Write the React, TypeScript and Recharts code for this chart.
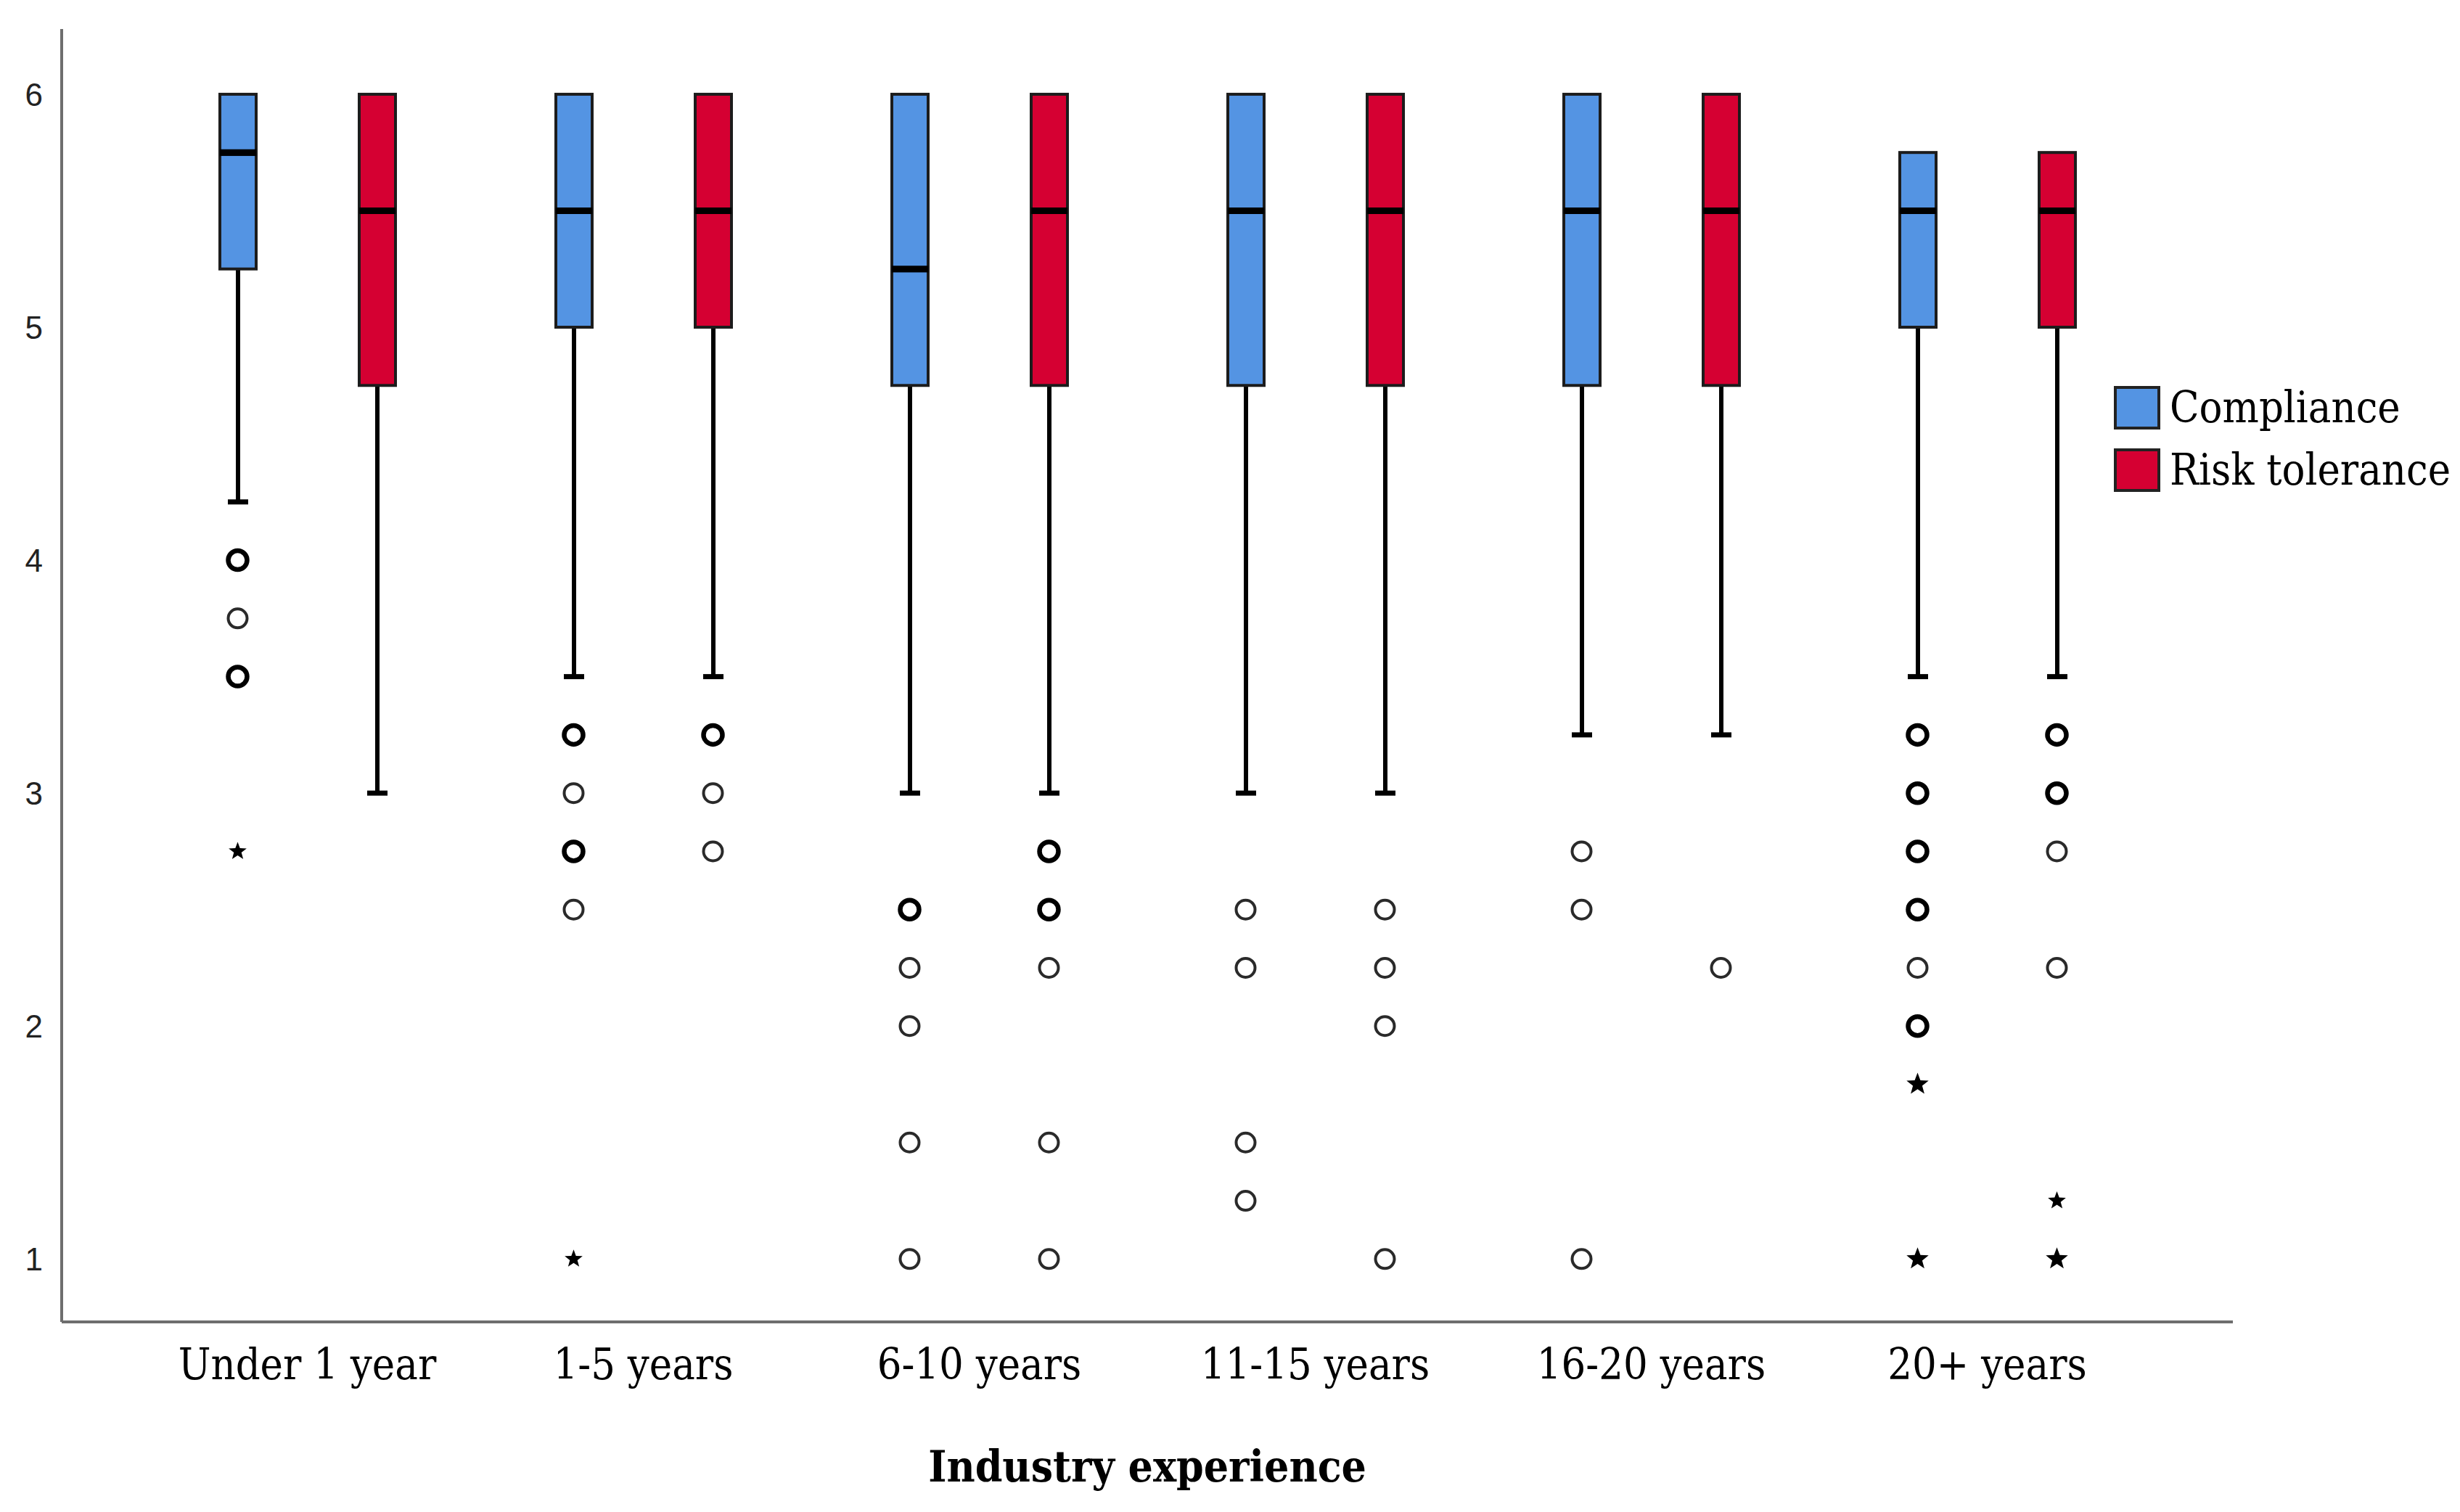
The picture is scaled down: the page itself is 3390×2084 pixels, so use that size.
import { Bar, ComposedChart, Label, Scatter, XAxis, YAxis } from "recharts";

const categories = [
  "Under 1 year",
  "1-5 years",
  "6-10 years",
  "11-15 years",
  "16-20 years",
  "20+ years",
];
const seriesNames = ["Compliance", "Risk tolerance"];
const seriesColors = ["#5494e3", "#d50032"];

// box plot stats per category: lower whisker end, Q1, median, Q3 (= max)
const complianceLow = [4.25, 3.5, 3, 3, 3.25, 3.5];
const complianceQ1 = [5.25, 5, 4.75, 4.75, 4.75, 5];
const complianceMedian = [5.75, 5.5, 5.25, 5.5, 5.5, 5.5];
const complianceQ3 = [6, 6, 6, 6, 6, 5.75];

const riskLow = [3, 3.5, 3, 3, 3.25, 3.5];
const riskQ1 = [4.75, 5, 4.75, 4.75, 4.75, 5];
const riskMedian = [5.5, 5.5, 5.5, 5.5, 5.5, 5.5];
const riskQ3 = [6, 6, 6, 6, 6, 5.75];

// outliers (circles) and extremes (stars); n = cases stacked on the same value
const complianceOutliers = [
  { cat: "Under 1 year", v: 4, n: 2 },
  { cat: "Under 1 year", v: 3.75, n: 1 },
  { cat: "Under 1 year", v: 3.5, n: 3 },
  { cat: "1-5 years", v: 3.25, n: 2 },
  { cat: "1-5 years", v: 3, n: 1 },
  { cat: "1-5 years", v: 2.75, n: 2 },
  { cat: "1-5 years", v: 2.5, n: 1 },
  { cat: "6-10 years", v: 2.5, n: 2 },
  { cat: "6-10 years", v: 2.25, n: 1 },
  { cat: "6-10 years", v: 2, n: 1 },
  { cat: "6-10 years", v: 1.5, n: 1 },
  { cat: "6-10 years", v: 1, n: 1 },
  { cat: "11-15 years", v: 2.5, n: 1 },
  { cat: "11-15 years", v: 2.25, n: 1 },
  { cat: "11-15 years", v: 1.5, n: 1 },
  { cat: "11-15 years", v: 1.25, n: 1 },
  { cat: "16-20 years", v: 2.75, n: 1 },
  { cat: "16-20 years", v: 2.5, n: 1 },
  { cat: "16-20 years", v: 1, n: 1 },
  { cat: "20+ years", v: 3.25, n: 3 },
  { cat: "20+ years", v: 3, n: 3 },
  { cat: "20+ years", v: 2.75, n: 3 },
  { cat: "20+ years", v: 2.5, n: 2 },
  { cat: "20+ years", v: 2.25, n: 1 },
  { cat: "20+ years", v: 2, n: 3 },
];
const complianceExtremes = [
  { cat: "Under 1 year", v: 2.75, n: 1 },
  { cat: "1-5 years", v: 1, n: 1 },
  { cat: "20+ years", v: 1.75, n: 2 },
  { cat: "20+ years", v: 1, n: 3 },
];
const riskOutliers = [
  { cat: "1-5 years", v: 3.25, n: 3 },
  { cat: "1-5 years", v: 3, n: 1 },
  { cat: "1-5 years", v: 2.75, n: 1 },
  { cat: "6-10 years", v: 2.75, n: 3 },
  { cat: "6-10 years", v: 2.5, n: 3 },
  { cat: "6-10 years", v: 2.25, n: 1 },
  { cat: "6-10 years", v: 1.5, n: 1 },
  { cat: "6-10 years", v: 1, n: 1 },
  { cat: "11-15 years", v: 2.5, n: 1 },
  { cat: "11-15 years", v: 2.25, n: 1 },
  { cat: "11-15 years", v: 2, n: 1 },
  { cat: "11-15 years", v: 1, n: 1 },
  { cat: "16-20 years", v: 2.25, n: 1 },
  { cat: "20+ years", v: 3.25, n: 3 },
  { cat: "20+ years", v: 3, n: 3 },
  { cat: "20+ years", v: 2.75, n: 1 },
  { cat: "20+ years", v: 2.25, n: 1 },
];
const riskExtremes = [
  { cat: "20+ years", v: 1.25, n: 1 },
  { cat: "20+ years", v: 1, n: 3 },
];

const yTicks = [1, 2, 3, 4, 5, 6];

const rows = categories.map((cat, i) => ({
  cat,
  cBase: complianceLow[i],
  cWhisker: complianceQ1[i] - complianceLow[i],
  cLower: complianceMedian[i] - complianceQ1[i],
  cUpper: complianceQ3[i] - complianceMedian[i],
  rBase: riskLow[i],
  rWhisker: riskQ1[i] - riskLow[i],
  rLower: riskMedian[i] - riskQ1[i],
  rUpper: riskQ3[i] - riskMedian[i],
}));

const SERIF = "'DejaVu Serif Condensed', 'DejaVu Serif', serif";
const SANS = "'Liberation Sans', Arial, sans-serif";
const AXIS_GREY = "#6e6e6e";
const BOX_STROKE = "#1c1c1c";
const BAR_SIZE = 50;
const BAR_GAP = 142;
const BOX_SHIFT = (BAR_SIZE + BAR_GAP) / 2;

function WhiskerShape(props: any) {
  const { x, y, width, height } = props;
  const cx = x + width / 2;
  return (
    <g>
      <line x1={cx} x2={cx} y1={y} y2={y + height} stroke="#000" strokeWidth={6} />
      <line
        x1={cx - 14}
        x2={cx + 14}
        y1={y + height}
        y2={y + height}
        stroke="#000"
        strokeWidth={7}
      />
    </g>
  );
}

function boxShape(fill: string, medianAtBottom: boolean) {
  return (props: any) => {
    const { x, y, width, height } = props;
    const my = medianAtBottom ? y + height : y;
    return (
      <g>
        <rect
          x={x}
          y={y}
          width={width}
          height={height}
          fill={fill}
          stroke={BOX_STROKE}
          strokeWidth={4}
        />
        <line x1={x} x2={x + width} y1={my} y2={my} stroke="#000" strokeWidth={9} />
      </g>
    );
  };
}

function circleShape(dx: number) {
  return (p: any) => {
    const bold = p.payload.n > 1;
    return (
      <circle
        cx={p.cx + dx}
        cy={p.cy}
        r={13}
        fill="none"
        stroke={bold ? "#000" : "#2a2a2a"}
        strokeWidth={bold ? 6.5 : 4}
      />
    );
  };
}

function starShape(dx: number) {
  return (p: any) => {
    const outer = p.payload.n > 1 ? 16 : 13;
    const inner = outer * 0.42;
    const pts: string[] = [];
    for (let k = 0; k < 10; k++) {
      const r = k % 2 === 0 ? outer : inner;
      const a = -Math.PI / 2 + (k * Math.PI) / 5;
      pts.push(`${p.cx + dx + r * Math.cos(a)},${p.cy + r * Math.sin(a)}`);
    }
    return <polygon points={pts.join(" ")} fill="#000" />;
  };
}

export default function App() {
  return (
    <div
      style={{
        position: "absolute",
        left: 0,
        top: 0,
        width: 3390,
        height: 2084,
        background: "#fff",
      }}
    >
      <ComposedChart
        width={3390}
        height={2084}
        data={rows}
        margin={{ top: 40, right: 313, bottom: 0, left: 0 }}
        barSize={BAR_SIZE}
        barGap={BAR_GAP}
      >
        <XAxis
          dataKey="cat"
          type="category"
          height={262}
          padding={{ left: 107, right: 107 }}
          interval={0}
          tickLine={false}
          tickSize={0}
          tickMargin={37}
          axisLine={{ stroke: AXIS_GREY, strokeWidth: 4 }}
          tick={{ fontSize: 59, fill: "#000", fontFamily: SERIF }}
        >
          <Label
            value="Industry experience"
            position="insideBottom"
            offset={42}
            fontSize={60}
            fontWeight="bold"
            fontFamily={SERIF}
            fill="#000"
          />
        </XAxis>
        <XAxis
          xAxisId="pts"
          dataKey="cat"
          type="category"
          allowDuplicatedCategory={false}
          padding={{ left: 107, right: 107 }}
          hide
        />
        <YAxis
          type="number"
          domain={[0.73, 6.28]}
          allowDataOverflow
          ticks={yTicks}
          width={85}
          tickLine={false}
          tickSize={0}
          tickMargin={26}
          axisLine={{ stroke: AXIS_GREY, strokeWidth: 4 }}
          tick={{ fontSize: 44, fill: "#222", fontFamily: SANS }}
        />

        <Bar dataKey="cBase" stackId="c" fill="none" isAnimationActive={false} />
        <Bar dataKey="cWhisker" stackId="c" shape={WhiskerShape} isAnimationActive={false} />
        <Bar
          dataKey="cLower"
          stackId="c"
          shape={boxShape(seriesColors[0], false)}
          isAnimationActive={false}
        />
        <Bar
          dataKey="cUpper"
          stackId="c"
          shape={boxShape(seriesColors[0], true)}
          isAnimationActive={false}
        />

        <Bar dataKey="rBase" stackId="r" fill="none" isAnimationActive={false} />
        <Bar dataKey="rWhisker" stackId="r" shape={WhiskerShape} isAnimationActive={false} />
        <Bar
          dataKey="rLower"
          stackId="r"
          shape={boxShape(seriesColors[1], false)}
          isAnimationActive={false}
        />
        <Bar
          dataKey="rUpper"
          stackId="r"
          shape={boxShape(seriesColors[1], true)}
          isAnimationActive={false}
        />

        <Scatter
          xAxisId="pts"
          data={complianceOutliers}
          dataKey="v"
          shape={circleShape(-BOX_SHIFT)}
          isAnimationActive={false}
        />
        <Scatter
          xAxisId="pts"
          data={complianceExtremes}
          dataKey="v"
          shape={starShape(-BOX_SHIFT)}
          isAnimationActive={false}
        />
        <Scatter
          xAxisId="pts"
          data={riskOutliers}
          dataKey="v"
          shape={circleShape(BOX_SHIFT)}
          isAnimationActive={false}
        />
        <Scatter
          xAxisId="pts"
          data={riskExtremes}
          dataKey="v"
          shape={starShape(BOX_SHIFT)}
          isAnimationActive={false}
        />
      </ComposedChart>

      <div style={{ position: "absolute", left: 2913, top: 532 }}>
        {seriesNames.map((name, i) => (
          <div
            key={name}
            style={{
              display: "flex",
              alignItems: "center",
              height: 60,
              marginBottom: 26,
            }}
          >
            <div
              style={{
                width: 56,
                height: 52,
                border: "4px solid #222",
                background: seriesColors[i],
              }}
            />
            <span
              style={{
                marginLeft: 13,
                fontFamily: SERIF,
                fontSize: 59,
                lineHeight: "60px",
                color: "#000",
                whiteSpace: "nowrap",
              }}
            >
              {name}
            </span>
          </div>
        ))}
      </div>
    </div>
  );
}
